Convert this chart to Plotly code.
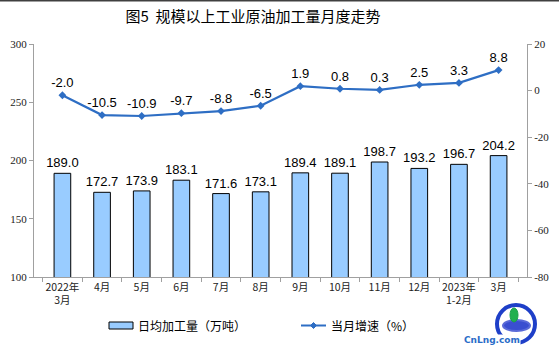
import plotly.graph_objects as go

categories = ["2022年<br>3月", "4月", "5月", "6月", "7月", "8月", "9月", "10月", "11月", "12月", "2023年<br>1-2月", "3月"]
daily_output = [189.0, 172.7, 173.9, 183.1, 171.6, 173.1, 189.4, 189.1, 198.7, 193.2, 196.7, 204.2]
growth = [-2.0, -10.5, -10.9, -9.7, -8.8, -6.5, 1.9, 0.8, 0.3, 2.5, 3.3, 8.8]
left_ticks = [100, 150, 200, 250, 300]
right_ticks = [-80, -60, -40, -20, 0, 20]

W, H = 559, 356
L, R, T, B = 34, 32, 44, 79
pw, ph = W - L - R, H - T - B

def px(x):
    return (x - L) / pw

def py(y):
    return (H - B - y) / ph

BLUE = "#2E6EC4"

fig = go.Figure()
fig.add_trace(go.Bar(
    x=categories, y=daily_output, name="日均加工量（万吨）",
    marker=dict(color="#99CCFF", line=dict(color="#000000", width=1)),
    width=0.42,
    text=[f"{v:.1f}" for v in daily_output], textposition="outside",
    constraintext="none",
    textfont=dict(family="Liberation Sans, Arial", size=13, color="#000000"),
    cliponaxis=False, showlegend=False,
))
fig.add_trace(go.Scatter(
    x=categories, y=growth, name="当月增速（%）", yaxis="y2",
    mode="lines+markers+text",
    line=dict(color=BLUE, width=2.2),
    marker=dict(symbol="diamond", size=6, color=BLUE),
    text=[f"{v:.1f}" for v in growth], textposition="top center",
    textfont=dict(family="Liberation Sans, Arial", size=13, color="#000000"),
    cliponaxis=False, showlegend=False,
))

tickfont = dict(family="Liberation Serif, Times New Roman, serif", size=11, color="#222222")

legend_shapes = [
    dict(type="rect", xref="paper", yref="paper", x0=px(109), x1=px(133), y0=py(329), y1=py(322),
         line=dict(color="#000000", width=1), fillcolor="#99CCFF"),
    dict(type="line", xref="paper", yref="paper", x0=px(301), x1=px(326), y0=py(325.5), y1=py(325.5),
         line=dict(color=BLUE, width=2)),
    dict(type="path", xref="paper", yref="paper",
         path=f"M {px(313.5)} {py(322.5)} L {px(316.5)} {py(325.5)} L {px(313.5)} {py(328.5)} L {px(310.5)} {py(325.5)} Z",
         line=dict(color=BLUE, width=1), fillcolor=BLUE),
]
logo_shapes = [
    dict(type="circle", xref="paper", yref="paper",
         x0=px(497), x1=px(535), y0=py(343), y1=py(305),
         line=dict(color="#1E3FC8", width=4)),
    dict(type="circle", xref="paper", yref="paper",
         x0=px(503), x1=px(530), y0=py(331), y1=py(320),
         line=dict(color="#5A6AD8", width=2), fillcolor="#3A4ED0"),
    dict(type="circle", xref="paper", yref="paper",
         x0=px(510), x1=px(518), y0=py(322), y1=py(308),
         line=dict(color="#18A048", width=1), fillcolor="#22B050"),
]

fig.update_layout(
    width=W, height=H,
    margin=dict(l=L, r=R, t=T, b=B),
    paper_bgcolor="white", plot_bgcolor="white",
    showlegend=False,
    title=dict(text="图5  规模以上工业原油加工量月度走势", xref="container", x=253 / W, xanchor="center",
               y=1 - 17 / H, yanchor="middle",
               font=dict(family="Noto Sans CJK SC", size=15, color="#000000")),
    xaxis=dict(showline=True, linecolor="#A0A0A0", linewidth=1, ticks="outside",
               tickson="boundaries", ticklen=4, tickcolor="#A0A0A0", tickangle=0,
               automargin=False,
               tickfont=dict(family="Noto Sans CJK SC", size=10.5, color="#222222"),
               showgrid=False),
    yaxis=dict(range=[100, 300], tickvals=left_ticks, showline=True, linecolor="#A0A0A0",
               ticks="outside", ticklen=4, tickcolor="#A0A0A0", showgrid=False,
               automargin=False, zeroline=False, tickfont=tickfont),
    yaxis2=dict(range=[-80, 20], tickvals=right_ticks, ticktext=[str(v) for v in right_ticks],
                overlaying="y", side="right", showline=True, linecolor="#A0A0A0",
                ticks="outside", ticklen=4, tickcolor="#A0A0A0", showgrid=False,
                automargin=False, zeroline=False, tickfont=tickfont),
    shapes=[
        dict(type="line", xref="paper", yref="paper", x0=px(0), x1=px(W), y0=py(0.5), y1=py(0.5),
             line=dict(color="#404040", width=2)),
    ] + legend_shapes + logo_shapes,
    annotations=[
        dict(text="日均加工量（万吨）", xref="paper", yref="paper", x=px(136), y=py(325.5),
             xanchor="left", yanchor="middle", showarrow=False,
             font=dict(family="Noto Sans CJK SC", size=12, color="#000000")),
        dict(text="当月增速（%）", xref="paper", yref="paper", x=px(329), y=py(325.5),
             xanchor="left", yanchor="middle", showarrow=False,
             font=dict(family="Noto Sans CJK SC", size=12, color="#000000")),
        dict(text="<b>CnLng.com</b>", xref="paper", yref="paper", x=px(521), y=py(346),
             showarrow=False, font=dict(family="DejaVu Sans", size=9, color="#2A6CC8"),
             bgcolor="white", borderpad=0),
    ],
)
fig.write_html("out.html", config={"displayModeBar": False},
               post_script="document.body.style.margin='0';document.body.style.padding='0';")
